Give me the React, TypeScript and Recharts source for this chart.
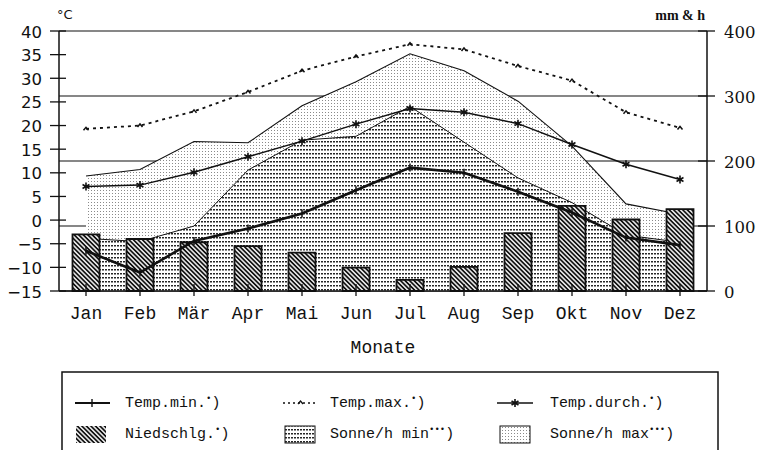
import { Area, Bar, CartesianGrid, ComposedChart, Line, XAxis, YAxis } from "recharts";

const months = ["Jan", "Feb", "Mär", "Apr", "Mai", "Jun", "Jul", "Aug", "Sep", "Okt", "Nov", "Dez"];

// °C, left axis
const tempMin = [-6.5, -11.1, -4.4, -1.8, 1.4, 6.3, 11.1, 10.0, 6.0, 1.6, -3.7, -5.3];
const tempMax = [19.3, 20.0, 23.0, 27.1, 31.6, 34.6, 37.2, 36.1, 32.6, 29.5, 22.8, 19.5];
const tempAvg = [7.1, 7.4, 10.1, 13.4, 16.7, 20.3, 23.6, 22.8, 20.4, 16.0, 11.8, 8.6];

// mm & h, right axis
const precip = [87, 80, 75, 69, 59, 36, 17, 37, 89, 131, 110, 126];
const sunMin = [81, 76, 100, 186, 232, 238, 284, 229, 174, 136, 86, 75];
const sunMax = [177, 187, 230, 228, 285, 322, 365, 339, 292, 223, 134, 118];

const tempTicks = [-15, -10, -5, 0, 5, 10, 15, 20, 25, 30, 35, 40];
const mmTicks = [0, 100, 200, 300, 400];

const data = months.map((month, i) => ({
  month,
  tempMin: tempMin[i],
  tempMax: tempMax[i],
  tempAvg: tempAvg[i],
  precip: precip[i],
  sunMin: sunMin[i],
  sunMax: sunMax[i],
}));

const INK = "#111";
const MONO = "'Liberation Mono', monospace";

function Patterns({ id }: { id: string }) {
  return (
    <defs>
      <pattern id={`${id}-hatch`} width={3.2} height={3.2} patternUnits="userSpaceOnUse" patternTransform="rotate(-45)">
        <rect width={3.2} height={3.2} fill="#fff" />
        <line x1={1.6} y1={0} x2={1.6} y2={3.2} stroke={INK} strokeWidth={1.8} />
      </pattern>
      <pattern id={`${id}-rows`} width={3} height={4} patternUnits="userSpaceOnUse">
        <rect width={3} height={4} fill="#fff" />
        <rect x={0} y={1} width={2} height={1.5} fill="#262626" />
      </pattern>
      <pattern id={`${id}-dots`} width={3} height={3} patternUnits="userSpaceOnUse">
        <rect width={3} height={3} fill="#fff" />
        <rect x={1} y={1} width={1} height={1} fill="#8a8a8a" />
      </pattern>
    </defs>
  );
}

const fmt = (v: number) => (v < 0 ? `\u2212${Math.abs(v)}` : String(v));

function LeftTick({ x, y, payload }: any) {
  return (
    <g>
      <line x1={x - 9} x2={x + 7} y1={y} y2={y} stroke={INK} strokeWidth={1.3} />
      <text x={x - 17} y={y + 1} textAnchor="end" dominantBaseline="central" fontFamily="'DejaVu Sans', sans-serif" fontSize={16.5} fill={INK}>
        {fmt(payload.value)}
      </text>
    </g>
  );
}

function RightTick({ x, y, payload }: any) {
  return (
    <g>
      <line x1={x - 9} x2={x + 8} y1={y} y2={y} stroke={INK} strokeWidth={1.3} />
      <text x={x + 17} y={y + 1} textAnchor="start" dominantBaseline="central" fontFamily="'DejaVu Serif', serif" fontSize={16.5} fill={INK}>
        {payload.value}
      </text>
    </g>
  );
}

function MonthTick({ x, y, payload }: any) {
  return (
    <g>
      <line x1={x} x2={x} y1={y - 7} y2={y + 5} stroke={INK} strokeWidth={1.3} />
      <text x={x} y={y + 23} textAnchor="middle" dominantBaseline="central" fontFamily={MONO} fontSize={18} fill={INK}>
        {payload.value}
      </text>
    </g>
  );
}

function BarDot({ cx, cy, index }: any) {
  if (cx == null || cy == null) return <g key={`m-${index}`} />;
  return <line key={`m-${index}`} x1={cx} x2={cx} y1={cy - 4} y2={cy + 4} stroke={INK} strokeWidth={1.5} />;
}

function CaretDot({ cx, cy, index }: any) {
  if (cx == null || cy == null) return <g key={`x-${index}`} />;
  return <path key={`x-${index}`} d={`M${cx - 2.5},${cy + 1.5} L${cx},${cy - 1.5} L${cx + 2.5},${cy + 1.5}`} fill="none" stroke={INK} strokeWidth={1.5} />;
}

function StarDot({ cx, cy, index }: any) {
  if (cx == null || cy == null) return <g key={`s-${index}`} />;
  const r = 4;
  const d = `M${cx},${cy - r} L${cx},${cy + r} M${cx - r * 0.87},${cy - r / 2} L${cx + r * 0.87},${cy + r / 2} M${cx - r * 0.87},${cy + r / 2} L${cx + r * 0.87},${cy - r / 2}`;
  return <path key={`s-${index}`} d={d} stroke={INK} strokeWidth={1.6} />;
}

type LegendItem = { label: string; note: string; kind: "min" | "max" | "avg" | "hatch" | "rows" | "dots"; x: number; tx: number; row: number };

const legendItems: LegendItem[] = [
  { label: "Temp.min.", note: "•", kind: "min", x: 75, tx: 125, row: 0 },
  { label: "Temp.max.", note: "•", kind: "max", x: 283, tx: 330, row: 0 },
  { label: "Temp.durch.", note: "•", kind: "avg", x: 497, tx: 550, row: 0 },
  { label: "Niedschlg.", note: "•", kind: "hatch", x: 76, tx: 125, row: 1 },
  { label: "Sonne/h min", note: "•••", kind: "rows", x: 285, tx: 330, row: 1 },
  { label: "Sonne/h max", note: "•••", kind: "dots", x: 500, tx: 550, row: 1 },
];

function LegendSymbol({ item, y }: { item: LegendItem; y: number }) {
  const { x, kind } = item;
  if (kind === "min")
    return (
      <g>
        <line x1={x} x2={x + 35} y1={y} y2={y} stroke={INK} strokeWidth={2.2} />
        <line x1={x + 17} x2={x + 17} y1={y - 4} y2={y + 4} stroke={INK} strokeWidth={1.4} />
      </g>
    );
  if (kind === "max")
    return (
      <g>
        <line x1={x} x2={x + 35} y1={y} y2={y} stroke={INK} strokeWidth={1.4} strokeDasharray="2 3" />
        <path d={`M${x + 15},${y + 1} L${x + 17.5},${y - 2} L${x + 20},${y + 1}`} fill="none" stroke={INK} strokeWidth={1.3} />
      </g>
    );
  if (kind === "avg")
    return (
      <g>
        <line x1={x} x2={x + 36} y1={y} y2={y} stroke={INK} strokeWidth={1.5} />
        <StarDot cx={x + 18} cy={y} index={0} />
      </g>
    );
  return <rect x={x} y={y - 8} width={30} height={17} fill={`url(#lg-${kind})`} stroke={kind === "hatch" ? "none" : INK} strokeWidth={1} />;
}

function ChartLegend() {
  const rows = [43, 74];
  return (
    <svg width={758} height={90} style={{ position: "absolute", left: 0, top: 360 }}>
      <Patterns id="lg" />
      <rect x={62} y={12} width={656} height={100} fill="none" stroke={INK} strokeWidth={1.5} />
      {legendItems.map((item) => {
        const y = rows[item.row];
        return (
          <g key={item.label}>
            <LegendSymbol item={item} y={y} />
            <text x={item.tx} y={y} dominantBaseline="central" fontFamily={MONO} fontSize={15} fill={INK}>
              {item.label}
              <tspan fontSize={9} dy={-4}>{item.note}</tspan>
              <tspan dy={4}>)</tspan>
            </text>
          </g>
        );
      })}
    </svg>
  );
}

export default function App() {
  return (
    <div style={{ position: "absolute", left: 0, top: 0, width: 758, height: 450, background: "#fff", overflow: "hidden" }}>
      <ComposedChart width={758} height={360} data={data} margin={{ top: 31, right: 0, bottom: 0, left: 0 }} barCategoryGap="25%">
        <Patterns id="c" />
        <CartesianGrid yAxisId="right" vertical={false} stroke={INK} strokeWidth={1.2} />
        <XAxis
          dataKey="month"
          height={69}
          interval={0}
          tickLine={false}
          tickSize={0}
          tickMargin={0}
          tick={<MonthTick />}
          axisLine={{ stroke: INK, strokeWidth: 1.5 }}
          label={{ value: "Monate", position: "insideBottom", offset: 7, fontFamily: MONO, fontSize: 18, fill: INK }}
        />
        <YAxis
          yAxisId="left"
          orientation="left"
          width={59}
          domain={[-15, 40]}
          ticks={tempTicks}
          interval={0}
          tickLine={false}
          tickSize={0}
          tickMargin={0}
          tick={<LeftTick />}
          axisLine={{ stroke: INK, strokeWidth: 1.5 }}
        />
        <YAxis
          yAxisId="right"
          orientation="right"
          width={51}
          domain={[0, 400]}
          ticks={mmTicks}
          interval={0}
          tickLine={false}
          tickSize={0}
          tickMargin={0}
          tick={<RightTick />}
          axisLine={{ stroke: INK, strokeWidth: 1.5 }}
        />
        <Area yAxisId="right" type="linear" dataKey="sunMax" name="Sonne/h max" stroke={INK} strokeWidth={1.1} fill="url(#c-dots)" fillOpacity={1} dot={false} activeDot={false} isAnimationActive={false} />
        <Area yAxisId="right" type="linear" dataKey="sunMin" name="Sonne/h min" stroke={INK} strokeWidth={1} fill="url(#c-rows)" fillOpacity={1} dot={false} activeDot={false} isAnimationActive={false} />
        <Bar yAxisId="right" dataKey="precip" name="Niedschlg." fill="url(#c-hatch)" stroke={INK} strokeWidth={1.8} isAnimationActive={false} />
        <Line yAxisId="left" type="linear" dataKey="tempMax" name="Temp.max." stroke={INK} strokeWidth={1.8} strokeDasharray="3 4" dot={<CaretDot />} activeDot={false} isAnimationActive={false} />
        <Line yAxisId="left" type="linear" dataKey="tempAvg" name="Temp.durch." stroke={INK} strokeWidth={1.5} dot={<StarDot />} activeDot={false} isAnimationActive={false} />
        <Line yAxisId="left" type="linear" dataKey="tempMin" name="Temp.min." stroke={INK} strokeWidth={2.6} dot={<BarDot />} activeDot={false} isAnimationActive={false} />
        <text x={57} y={19} fontFamily="'DejaVu Sans', sans-serif" fontSize={13} fill={INK}>
          °C
        </text>
        <text x={705} y={20} textAnchor="end" fontFamily="'Liberation Serif', serif" fontWeight="bold" fontSize={14} fill={INK}>
          mm &amp; h
        </text>
      </ComposedChart>
      <ChartLegend />
    </div>
  );
}
